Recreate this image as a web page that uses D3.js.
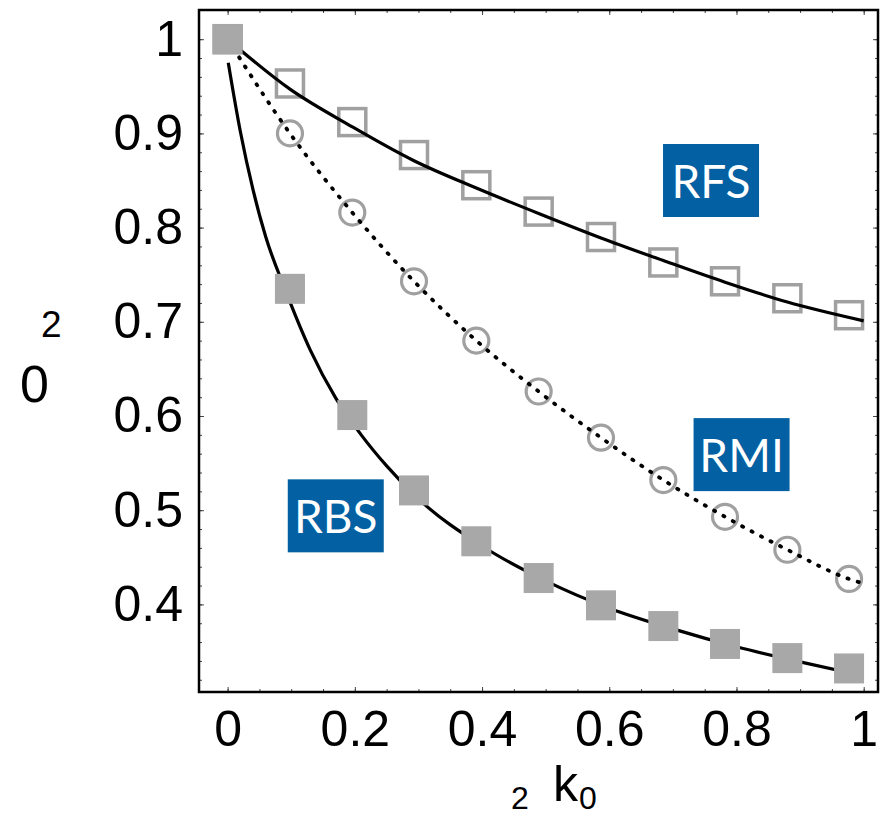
<!DOCTYPE html>
<html>
<head>
<meta charset="utf-8">
<script src="https://cdn.jsdelivr.net/npm/d3@7"></script>
<style>
  body { margin: 0; background: #fff; }
  svg { display: block; }
  .tick-label text { font-family: "Liberation Sans", Arial, sans-serif; font-size: 50px; fill: #000; }
</style>
</head>
<body>
<svg width="883" height="816"></svg>
<script>
// values
const markerK = [0, 0.098, 0.196, 0.293, 0.391, 0.489, 0.587, 0.685, 0.782, 0.880, 0.977];
const rfsMarks = [1.0, 0.953, 0.912, 0.877, 0.845, 0.817, 0.790, 0.763, 0.743, 0.725, 0.707];
const rmiMarks = [1.0, 0.900, 0.816, 0.743, 0.680, 0.626, 0.577, 0.532, 0.493, 0.458, 0.427];
const rbsMarks = [1.0, 0.735, 0.601, 0.521, 0.467, 0.428, 0.399, 0.377, 0.358, 0.343, 0.332];

// curves (theory)
const rfsLineK = [0, 0.098, 0.196, 0.293, 0.391, 0.489, 0.587, 0.685, 0.782, 0.880, 1.0];
const rfsLine  = [1.0, 0.947, 0.907, 0.871, 0.842, 0.815, 0.789, 0.765, 0.742, 0.721, 0.701];
const rmiLineK = [0, 0.098, 0.196, 0.293, 0.391, 0.489, 0.587, 0.685, 0.782, 0.880, 0.977, 1.0];
const rmiLine  = [1.0, 0.900, 0.816, 0.743, 0.680, 0.626, 0.577, 0.532, 0.493, 0.458, 0.427, 0.422];
const rbsLineK = [0.001, 0.02, 0.04, 0.06, 0.09, 0.13, 0.17, 0.21, 0.25, 0.3, 0.4, 0.5, 0.6, 0.7, 0.8, 0.9, 1.0];
const rbsLine  = [0.975, 0.902, 0.84, 0.79, 0.735, 0.67, 0.619, 0.58, 0.547, 0.512, 0.462, 0.425, 0.396, 0.374, 0.355, 0.339, 0.324];

const xTicks = [0, 0.2, 0.4, 0.6, 0.8, 1];
const xTickLabels = ["0", "0.2", "0.4", "0.6", "0.8", "1"];
const yTicks = [0.4, 0.5, 0.6, 0.7, 0.8, 0.9, 1];
const yTickLabels = ["0.4", "0.5", "0.6", "0.7", "0.8", "0.9", "1"];

const tagNames = ["RFS", "RMI", "RBS"];
const tagK = [0.760, 0.808, 0.170];
const tagV = [0.850, 0.559, 0.494];

// frame
const fLeft = 199, fRight = 878, fTop = 10, fBottom = 692;

const svg = d3.select("svg");
const x = d3.scaleLinear().domain([-0.045, 1.0225]).range([fLeft, fRight]);
const y = d3.scaleLinear().domain([0.307, 1.031]).range([fBottom, fTop]);

const xMinor = d3.range(0, 21).map(i => i * 0.05);
const yMinor = d3.range(16, 51).map(i => i * 0.02);

// inner ticks on all four sides
function ticks(axisFn, scale, vals, len, translate) {
  svg.append("g")
    .attr("transform", translate)
    .call(axisFn(scale).tickValues(vals).tickSize(-len).tickFormat(""))
    .call(g => g.select(".domain").remove())
    .call(g => g.selectAll("line").attr("stroke", "#444").attr("stroke-width", 1));
}
ticks(d3.axisBottom, x, xMinor, 3, `translate(0,${fBottom})`);
ticks(d3.axisBottom, x, xTicks, 5, `translate(0,${fBottom})`);
ticks(d3.axisTop, x, xMinor, 3, `translate(0,${fTop})`);
ticks(d3.axisTop, x, xTicks, 5, `translate(0,${fTop})`);
ticks(d3.axisLeft, y, yMinor, 3, `translate(${fLeft},0)`);
ticks(d3.axisLeft, y, yTicks, 5, `translate(${fLeft},0)`);
ticks(d3.axisRight, y, yMinor, 3, `translate(${fRight},0)`);
ticks(d3.axisRight, y, yTicks, 5, `translate(${fRight},0)`);

// tick labels
svg.append("g").attr("class", "tick-label")
  .attr("transform", `translate(0,${fBottom})`)
  .call(d3.axisBottom(x).tickValues(xTicks).tickSize(0).tickPadding(18)
    .tickFormat((d, i) => xTickLabels[i]))
  .call(g => g.select(".domain").remove());
svg.append("g").attr("class", "tick-label")
  .attr("transform", `translate(${fLeft},0)`)
  .call(d3.axisLeft(y).tickValues(yTicks).tickSize(0).tickPadding(16)
    .tickFormat((d, i) => yTickLabels[i]))
  .call(g => g.select(".domain").remove());

const grey = "#a0a0a0";
const sq = 27;

// open squares (RFS)
svg.append("g").selectAll("rect")
  .data(markerK.map((k, i) => [k, rfsMarks[i]]))
  .join("rect")
  .attr("x", d => x(d[0]) - sq / 2).attr("y", d => y(d[1]) - sq / 2)
  .attr("width", sq).attr("height", sq)
  .attr("fill", "none").attr("stroke", grey).attr("stroke-width", 3.5);

// open circles (RMI)
svg.append("g").selectAll("circle")
  .data(markerK.map((k, i) => [k, rmiMarks[i]]))
  .join("circle")
  .attr("cx", d => x(d[0])).attr("cy", d => y(d[1])).attr("r", 12.5)
  .attr("fill", "none").attr("stroke", grey).attr("stroke-width", 3.2);

const line = d3.line().x(d => x(d[0])).y(d => y(d[1])).curve(d3.curveMonotoneX);

svg.append("path")
  .datum(rfsLineK.map((k, i) => [k, rfsLine[i]]))
  .attr("d", line).attr("fill", "none").attr("stroke", "#000").attr("stroke-width", 3.2);

svg.append("path")
  .datum(rmiLineK.map((k, i) => [k, rmiLine[i]]))
  .attr("d", line).attr("fill", "none").attr("stroke", "#000").attr("stroke-width", 3.8)
  .attr("stroke-linecap", "round").attr("stroke-dasharray", "1.2 9.5");

svg.append("path")
  .datum(rbsLineK.map((k, i) => [k, rbsLine[i]]))
  .attr("d", line).attr("fill", "none").attr("stroke", "#000").attr("stroke-width", 3.2);

// filled squares (RBS)
const fsq = 30;
svg.append("g").selectAll("rect")
  .data(markerK.map((k, i) => [k, rbsMarks[i]]))
  .join("rect")
  .attr("x", d => x(d[0]) - fsq / 2).attr("y", d => y(d[1]) - fsq / 2)
  .attr("width", fsq).attr("height", fsq)
  .attr("fill", "#a8a8a8");

// frame
svg.append("rect")
  .attr("x", fLeft).attr("y", fTop).attr("width", fRight - fLeft).attr("height", fBottom - fTop)
  .attr("fill", "none").attr("stroke", "#000").attr("stroke-width", 2.5);

// labels
const tags = svg.append("g").selectAll("g")
  .data(tagNames.map((n, i) => ({ n, k: tagK[i], v: tagV[i] })))
  .join("g")
  .attr("transform", d => `translate(${x(d.k)},${y(d.v)})`);
tags.append("rect")
  .attr("x", -48).attr("y", -36.5).attr("width", 96).attr("height", 73)
  .attr("fill", "#0361a3");
tags.append("text")
  .attr("text-anchor", "middle").attr("y", 17)
  .attr("font-family", "Lato, 'Open Sans', sans-serif").attr("font-size", 46)
  .attr("fill", "#fff")
  .text(d => d.n);

// axis titles (greek glyphs missing in the original render)
const font = "'Liberation Sans', Arial, sans-serif";
svg.append("text").attr("x", 20).attr("y", 402).attr("font-family", font).attr("font-size", 52).text("0");
svg.append("text").attr("x", 41).attr("y", 337).attr("font-family", font).attr("font-size", 37).text("2");
svg.append("text").attr("x", 511).attr("y", 809).attr("font-family", font).attr("font-size", 32).text("2");
svg.append("text").attr("x", 553).attr("y", 801).attr("font-family", font).attr("font-size", 50).text("k");
svg.append("text").attr("x", 579).attr("y", 809).attr("font-family", font).attr("font-size", 32).text("0");
</script>
</body>
</html>
